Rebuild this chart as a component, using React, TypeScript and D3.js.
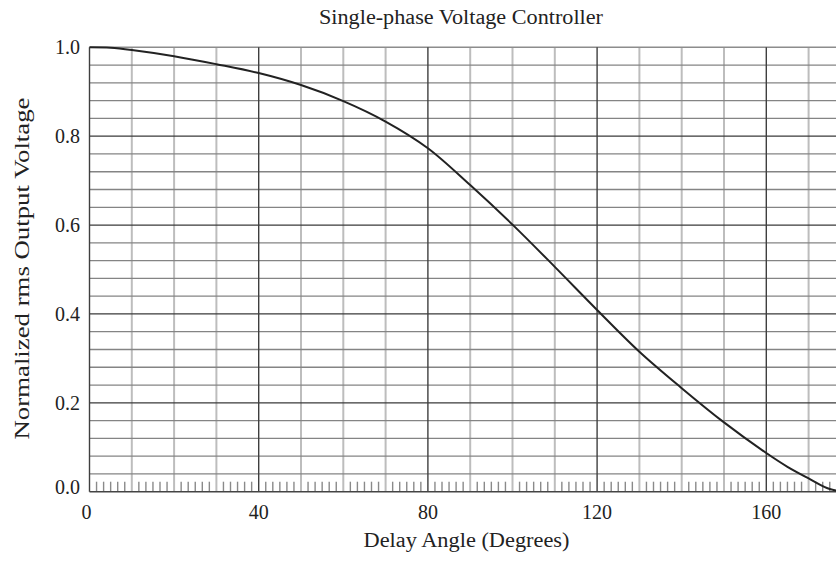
import React from "react";
import * as d3 from "d3";

const angles = [0, 5, 10, 20, 30, 40, 50, 60, 70, 80, 90, 100, 110, 120, 130, 140, 150, 160, 165, 170, 175, 180];
const voltage = [1.0, 0.999, 0.994, 0.98, 0.962, 0.942, 0.915, 0.879, 0.833, 0.773, 0.69, 0.601, 0.506, 0.409, 0.315, 0.233, 0.156, 0.087, 0.056, 0.03, 0.006, 0.0];

const xTickLabels = [0, 40, 80, 120, 160];
const yTickLabels = [0.0, 0.2, 0.4, 0.6, 0.8, 1.0];

const titleText = "Single-phase Voltage Controller";
const xTitle = "Delay Angle (Degrees)";
const yTitle = "Normalized rms Output Voltage";

const W = 836;
const H = 561;
const FONT = "'Liberation Serif', 'Times New Roman', serif";

export default function App() {
  const x = d3.scaleLinear().domain([0, 180]).range([89.5, 850.9]);
  const y = d3.scaleLinear().domain([0, 1]).range([491.7, 47.3]);

  const vMinor = d3.range(0, 181, 10).filter((d) => d % 40 !== 0);
  const vMajor = d3.range(0, 181, 40);
  const hAll = d3.range(0, 26).map((i) => i * 0.04);
  const hMinor = hAll.filter((_, i) => i % 5 !== 0);
  const hMajor = hAll.filter((_, i) => i % 5 === 0);
  const smallTicks = d3.range(0, 109).map((i) => (i * 10) / 6).filter((_, i) => i % 6 !== 0);

  const pts = angles.map((a, i) => [a, voltage[i]] as [number, number]);
  const line = d3
    .line<[number, number]>()
    .x((d) => x(d[0]))
    .y((d) => y(d[1]))
    .curve(d3.curveCatmullRom.alpha(0.5));

  const x0 = x(0);
  const xEnd = W + 5;

  return (
    <svg
      width={W}
      height={H}
      style={{ position: "absolute", left: 0, top: 0, background: "#fff" }}
      fontFamily={FONT}
    >
      <rect x={0} y={0} width={W} height={H} fill="#fff" />
      {smallTicks.map((t, i) => (
        <line key={"st" + i} x1={x(t)} x2={x(t)} y1={y(0)} y2={y(0) - 10} stroke="#8a8a8a" strokeWidth={1.4} />
      ))}
      {vMinor.map((t) => (
        <line key={"vm" + t} x1={x(t)} x2={x(t)} y1={y(1)} y2={y(0)} stroke="#bdbdbd" strokeWidth={2} />
      ))}
      {hMinor.map((t, i) => (
        <line key={"hm" + i} x1={x0} x2={xEnd} y1={y(t)} y2={y(t)} stroke="#848484" strokeWidth={1.3} />
      ))}
      <line x1={x0} x2={xEnd} y1={y(1)} y2={y(1)} stroke="#8c8c8c" strokeWidth={1.5} />
      {hMajor
        .filter((t) => t > 0.01 && t < 0.99)
        .map((t, i) => (
          <line key={"hM" + i} x1={x0} x2={xEnd} y1={y(t)} y2={y(t)} stroke="#3a3a3a" strokeWidth={1.3} />
        ))}
      {vMajor.map((t) => (
        <line key={"vM" + t} x1={x(t)} x2={x(t)} y1={y(1)} y2={y(0)} stroke="#3f3f3f" strokeWidth={1.4} />
      ))}
      <line x1={x0} x2={xEnd} y1={y(0)} y2={y(0)} stroke="#444" strokeWidth={1.5} />
      <path d={line(pts) || ""} fill="none" stroke="#222" strokeWidth={2} />

      {xTickLabels.map((t) => (
        <text key={"xl" + t} x={x(t) - (t === 0 ? 3 : 0)} y={519} textAnchor="middle" fontSize={20} fill="#222">
          {t}
        </text>
      ))}
      {yTickLabels.map((t) => (
        <text key={"yl" + t} x={80} y={y(t) + (t === 0 ? 2.5 : 7)} textAnchor="end" fontSize={20} fill="#222">
          {t.toFixed(1)}
        </text>
      ))}

      <text x={461} y={24} textAnchor="middle" fontSize={20} fill="#222" textLength={284} lengthAdjust="spacingAndGlyphs">
        {titleText}
      </text>
      <text x={466.5} y={547} textAnchor="middle" fontSize={20} fill="#222" textLength={206} lengthAdjust="spacingAndGlyphs">
        {xTitle}
      </text>
      <text
        transform={`translate(${29},${268.5}) rotate(-90)`}
        textAnchor="middle"
        fontSize={20}
        fill="#222"
        textLength={342}
        lengthAdjust="spacingAndGlyphs"
      >
        {yTitle}
      </text>
    </svg>
  );
}
